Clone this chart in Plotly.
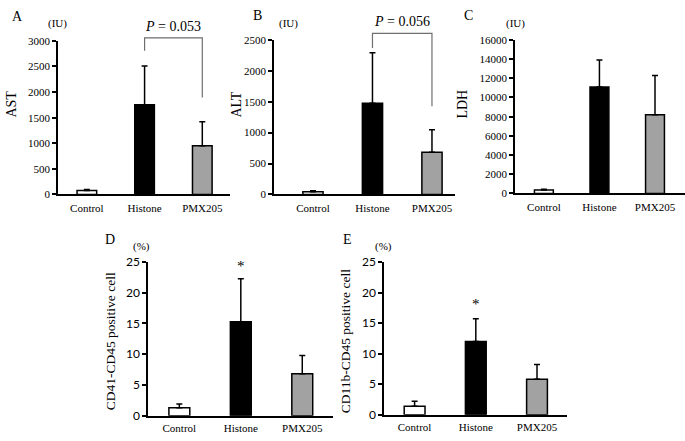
import plotly.graph_objects as go

W, H = 685, 441

categories = ["Control", "Histone", "PMX205"]

ast_mean = [75, 1750, 950]
ast_err = [20, 760, 470]
alt_mean = [42, 1477, 681]
alt_err = [16, 814, 366]
ldh_mean = [350, 11100, 8200]
ldh_err = [100, 2800, 4100]
cd41_mean = [1.3, 15.3, 6.8]
cd41_err = [0.6, 7.0, 3.0]
cd11b_mean = [1.4, 12.0, 5.8]
cd11b_err = [0.8, 3.7, 2.4]

ast_bracket = [2805, 3057, 3057, 1892]
alt_bracket = [2370, 2605, 2605, 1428]
ast_p = "<i>P</i> = 0.053"
alt_p = "<i>P</i> = 0.056"
ast_p_y = 3290
alt_p_y = 2790
cd41_star_y = 24.4
cd11b_star_y = 18.2

SERIF = "Liberation Serif"
SANS = "Lato"

fill_colors = ["white", "black", "#bdbdbd"]


def px_x(x):
    return x / W


def px_y(y):
    return 1 - y / H


panels = [
    dict(x0=58, x1=230, yt=34, yb=193, xr=[-0.5, 2.48], yr=[0, 3000], dt=500, font=SERIF,
         mean=ast_mean, err=ast_err),
    dict(x0=274, x1=455, yt=33, yb=193, xr=[-0.655, 2.387], yr=[0, 2500], dt=500, font=SERIF,
         mean=alt_mean, err=alt_err),
    dict(x0=515, x1=685, yt=33, yb=192, xr=[-0.52, 2.54], yr=[0, 16000], dt=2000, font=SERIF,
         mean=ldh_mean, err=ldh_err),
    dict(x0=148, x1=333, yt=263, yb=422, xr=[-0.51, 2.50], yr=[0, 25], dt=5, font=SANS,
         mean=cd41_mean, err=cd41_err),
    dict(x0=384, x1=567, yt=263, yb=421, xr=[-0.5, 2.49], yr=[0, 25], dt=5, font=SANS,
         mean=cd11b_mean, err=cd11b_err),
]

fig = go.Figure()
layout = dict(
    width=W, height=H, margin=dict(l=0, r=0, t=0, b=0, pad=0),
    paper_bgcolor="white", plot_bgcolor="rgba(0,0,0,0)", showlegend=False,
    font=dict(family=SERIF, size=11, color="black"),
)

for i, p in enumerate(panels):
    n = "" if i == 0 else str(i + 1)
    fig.add_trace(go.Bar(
        x=[0, 1, 2], y=p["mean"], width=0.34,
        xaxis="x" + n, yaxis="y" + n,
        marker=dict(
            color=fill_colors,
            line=dict(color="black", width=1.5),
            pattern=dict(shape=["", "", "."], fgcolor="#8c8c8c",
                         size=2, solidity=0.5, fillmode="overlay"),
        ),
        error_y=dict(type="data", symmetric=False, array=p["err"],
                     arrayminus=[0, 0, 0], color="black", thickness=1.5, width=3),
    ))
    layout["xaxis" + n] = dict(
        domain=[px_x(p["x0"]), px_x(p["x1"])], range=p["xr"], anchor="y" + n,
        tickmode="array", tickvals=[0, 1, 2], ticktext=categories,
        showline=True, linecolor="black", linewidth=1.5, ticks="",
        ticklabelstandoff=3 if i < 3 else 1, showgrid=False, zeroline=False,
        tickfont=dict(family=SERIF, size=11, color="black"),
    )
    layout["yaxis" + n] = dict(
        domain=[px_y(p["yb"]), px_y(p["yt"])], range=p["yr"], anchor="x" + n,
        dtick=p["dt"], tick0=0, tickformat="d", showline=True, linecolor="black", linewidth=1.5,
        ticks="outside", ticklen=4, tickwidth=1.5, tickcolor="black",
        showgrid=False, zeroline=False,
        tickfont=dict(family=p["font"], size=12 if p["font"] == SANS else 11, color="black"),
    )

# hidden axes extending above panels A and B for the significance brackets
for k, (i, br, ptxt, py) in enumerate([(0, ast_bracket, ast_p, ast_p_y), (1, alt_bracket, alt_p, alt_p_y)]):
    p = panels[i]
    n = "" if i == 0 else str(i + 1)
    an = str(6 + k)
    top = p["yr"][1] * p["yb"] / (p["yb"] - p["yt"])
    layout["yaxis" + an] = dict(domain=[px_y(p["yb"]), 1], range=[0, top], anchor="x" + n,
                                visible=False, showgrid=False, zeroline=False)
    fig.add_trace(go.Scatter(
        x=[1, 1, 2, 2], y=br, mode="lines", xaxis="x" + n, yaxis="y" + an,
        line=dict(color="#6e6e6e", width=1.2), hoverinfo="skip",
    ))
    fig.add_annotation(x=1.5, y=py, xref="x" + n, yref="y" + an, text=ptxt,
                       showarrow=False, font=dict(family=SERIF, size=14, color="black"))

fig.update_layout(**layout)

for n, sy in [("4", cd41_star_y), ("5", cd11b_star_y)]:
    fig.add_annotation(x=1, y=sy, xref="x" + n, yref="y" + n, text="*",
                       showarrow=False, yanchor="middle",
                       font=dict(family=SERIF, size=15, color="black"))

labels = [
    ("A", 17, 9, 14), ("B", 257, 8, 14), ("C", 468, 8, 14),
    ("D", 110, 240, 14), ("E", 347, 240, 14),
    ("(IU)", 57, 16, 11), ("(IU)", 288, 16, 11), ("(IU)", 515, 16, 11),
    ("(%)", 141, 247, 11), ("(%)", 383, 247, 11),
]
for t, x, y, s in labels:
    fig.add_annotation(x=px_x(x), y=px_y(y), xref="paper", yref="paper", text=t,
                       showarrow=False, xanchor="center", yanchor="middle",
                       font=dict(family=SERIF, size=s, color="black"))

titles = [
    ("AST", 12, 100, 14), ("ALT", 237, 100, 14), ("LDH", 463, 100, 14),
    ("CD41-CD45 positive cell", 110, 345, 13.5),
    ("CD11b-CD45 positive cell", 345, 345, 13.5),
]
for t, x, y, s in titles:
    fig.add_annotation(x=px_x(x), y=px_y(y), xref="paper", yref="paper", text=t,
                       showarrow=False, textangle=-90, xanchor="center", yanchor="middle",
                       font=dict(family=SERIF, size=s, color="black"))

fig.write_html("out.html", config={"displayModeBar": False},
               post_script="document.body.style.margin='0';document.body.style.overflow='hidden';")
